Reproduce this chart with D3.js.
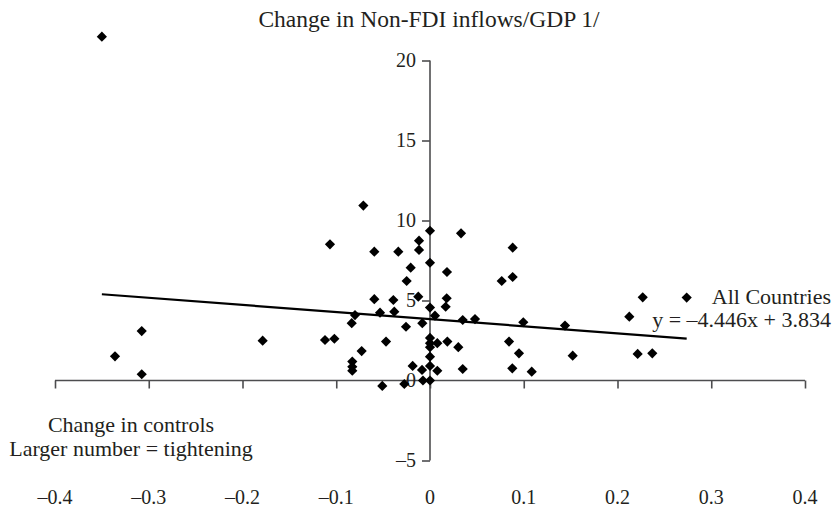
<!DOCTYPE html>
<html>
<head>
<meta charset="utf-8">
<script src="https://cdn.jsdelivr.net/npm/d3@7"></script>
<style>
  html, body { margin: 0; padding: 0; background: #fff; }
  svg text { font-family: "Liberation Serif", "Times New Roman", serif; fill: #231f20; }
</style>
</head>
<body>
<svg id="chart" width="838" height="509"></svg>
<script>
// Change in capital controls (x) vs change in non-FDI inflows / GDP (y)
const controlChange = [
  -0.350, -0.3075, -0.336, -0.3075, -0.1785,
  -0.112, -0.102, -0.1067, -0.0711, -0.0594, -0.0338, -0.0117, -0.0117, -0.0206, -0.0249,
  -0.0594, -0.0391, -0.0125, -0.080, -0.0533, -0.0381, -0.0835, -0.0256, -0.0082, -0.0469,
  -0.0729, -0.0829, -0.0829, -0.0829, -0.0185, -0.0085, -0.0075, -0.0509, -0.0274,
  0, 0, 0, 0, 0, 0, 0, 0, 0,
  0.0331, 0.0882, 0.0181, 0.0765, 0.0882, 0.0178, 0.0167, 0.0053, 0.0349, 0.048,
  0.0995, 0.0078, 0.0185, 0.0302, 0.0843, 0.0949, 0.0078, 0.0349, 0.0878, 0.1085,
  0.144, 0.1522, 0.2126, 0.2269, 0.2215, 0.2371, 0.2738
];
const inflowChange = [
  21.49, 3.09, 1.51, 0.39, 2.49,
  2.53, 2.61, 8.51, 10.93, 8.05, 8.05, 8.74, 8.16, 7.05, 6.22,
  5.08, 5.03, 5.24, 4.09, 4.24, 4.30, 3.58, 3.36, 3.58, 2.43,
  1.84, 1.18, 0.86, 0.61, 0.91, 0.66, 0.0, -0.34, -0.22,
  9.36, 7.36, 4.56, 2.66, 2.33, 2.08, 1.49, 0.91, 0.0,
  9.20, 8.30, 6.78, 6.22, 6.47, 5.14, 4.61, 4.05, 3.78, 3.84,
  3.64, 2.33, 2.43, 2.08, 2.43, 1.70, 0.61, 0.72, 0.76, 0.55,
  3.43, 1.55, 3.99, 5.20, 1.66, 1.70, 5.18
];

// Fitted trend line: y = slope * x + intercept
const trendSlope = -4.446;
const trendIntercept = 3.834;

const xTicks = [-0.4, -0.3, -0.2, -0.1, 0, 0.1, 0.2, 0.3, 0.4];
const yTicks = [-5, 0, 5, 10, 15, 20];

const titleText = "Change in Non-FDI inflows/GDP 1/";
const xLabelLines = ["Change in controls", "Larger number = tightening"];
const seriesName = "All Countries";
const equationText = "y = \u20134.446x + 3.834";

const fmt = v => (v < 0 ? "\u2013" : "") + String(Math.abs(v));

const svg = d3.select("#chart");
const axisColor = "#4d4d4f";
const tickFont = 20;
const labelFont = 22;

const x = d3.scaleLinear().domain([-0.4, 0.4]).range([55, 805]);
const y = d3.scaleLinear().domain([-5, 20]).range([460.5, 60.5]);

// Horizontal axis through y = 0, ticks pointing down
const xAxis = svg.append("g")
  .attr("transform", `translate(0,${y(0)})`)
  .call(d3.axisBottom(x).tickValues(xTicks).tickSize(8).tickFormat(() => ""));
xAxis.select(".domain").attr("stroke", axisColor).attr("stroke-width", 1.6).attr("d", `M${x(-0.4)},0H${x(0.4)}`);
xAxis.selectAll(".tick line").attr("stroke", axisColor).attr("stroke-width", 1.6);

// Tick labels along the bottom edge
svg.append("g").selectAll("text")
  .data(xTicks).join("text")
  .attr("x", d => x(d))
  .attr("y", 504)
  .attr("text-anchor", "middle")
  .attr("font-size", tickFont)
  .text(fmt);

// Vertical axis through x = 0, ticks pointing left
const yAxis = svg.append("g")
  .attr("transform", `translate(${x(0)},0)`)
  .call(d3.axisLeft(y).tickValues(yTicks).tickSize(8).tickPadding(6).tickFormat(fmt));
yAxis.select(".domain").attr("stroke", axisColor).attr("stroke-width", 1.6).attr("d", `M0,${y(20)}V${y(-5)}`);
yAxis.selectAll(".tick line").attr("stroke", axisColor).attr("stroke-width", 1.6);
yAxis.selectAll(".tick text")
  .attr("font-family", "Liberation Serif, Times New Roman, serif")
  .attr("font-size", tickFont)
  .attr("fill", "#231f20");

// Data points as diamonds
const points = controlChange.map((v, i) => ({ cx: v, cy: inflowChange[i] }));
const diamond = d3.symbol().type(d3.symbolSquare).size(52);
svg.append("g").selectAll("path")
  .data(points).join("path")
  .attr("d", diamond)
  .attr("transform", d => `translate(${x(d.cx)},${y(d.cy)}) rotate(45)`)
  .attr("fill", "#000");

// Trend line across the range of the data
const xMin = d3.min(controlChange), xMax = d3.max(controlChange);
svg.append("line")
  .attr("x1", x(xMin)).attr("y1", y(trendSlope * xMin + trendIntercept))
  .attr("x2", x(xMax)).attr("y2", y(trendSlope * xMax + trendIntercept))
  .attr("stroke", "#000")
  .attr("stroke-width", 2.2);

// Title above the vertical axis
svg.append("text")
  .attr("x", 429).attr("y", 27)
  .attr("text-anchor", "middle")
  .attr("font-size", 23.5)
  .text(titleText);

// Horizontal axis description
svg.append("g").selectAll("text")
  .data(xLabelLines).join("text")
  .attr("x", 131)
  .attr("y", (d, i) => 432 + i * 24)
  .attr("text-anchor", "middle")
  .attr("font-size", labelFont)
  .text(d => d);

// Series label and equation
svg.append("text")
  .attr("x", 831).attr("y", 304)
  .attr("text-anchor", "end")
  .attr("font-size", labelFont)
  .text(seriesName);
svg.append("text")
  .attr("x", 831).attr("y", 327)
  .attr("text-anchor", "end")
  .attr("font-size", labelFont)
  .text(equationText);
</script>
</body>
</html>
